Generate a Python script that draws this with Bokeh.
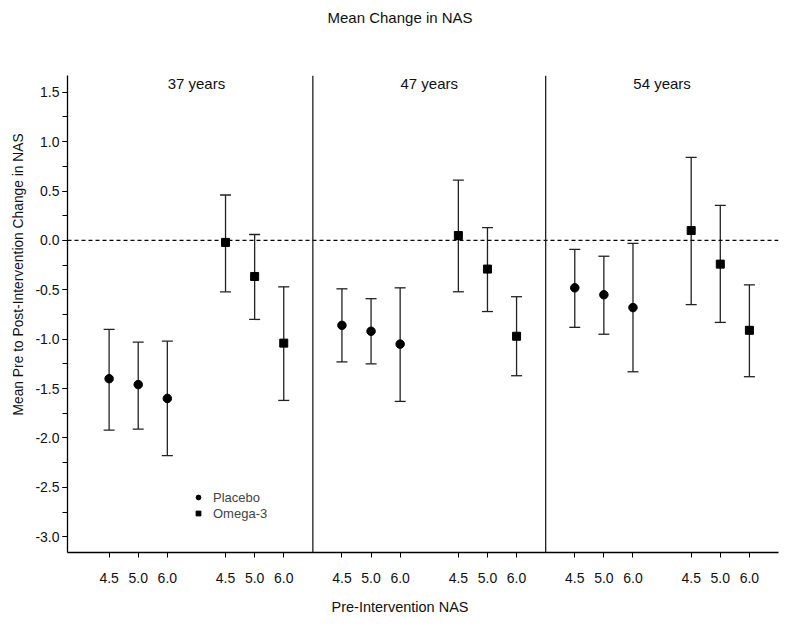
import math
from bokeh.plotting import figure
from bokeh.models import (ColumnDataSource, Whisker, TeeHead, Span, Label, Legend,
                          LegendItem, FixedTicker, Range1d, Title)
from bokeh.embed import file_html
from bokeh.resources import INLINE

# ---------------- data ----------------
groups = ["37 years", "47 years", "54 years"]
nas_levels = ["4.5", "5.0", "6.0"]

placebo_mean = [[-1.40, -1.46, -1.60], [-0.86, -0.92, -1.05], [-0.48, -0.55, -0.68]]
placebo_lower = [[-1.92, -1.91, -2.18], [-1.23, -1.25, -1.63], [-0.88, -0.95, -1.33]]
placebo_upper = [[-0.90, -1.03, -1.02], [-0.49, -0.59, -0.48], [-0.09, -0.16, -0.03]]

omega_mean = [[-0.02, -0.365, -1.04], [0.05, -0.29, -0.97], [0.10, -0.24, -0.91]]
omega_lower = [[-0.52, -0.80, -1.62], [-0.52, -0.72, -1.37], [-0.65, -0.83, -1.38]]
omega_upper = [[0.46, 0.06, -0.47], [0.61, 0.13, -0.57], [0.84, 0.355, -0.45]]

y_ticks = [-3.0, -2.5, -2.0, -1.5, -1.0, -0.5, 0.0, 0.5, 1.0, 1.5]
y_minor = [-3.25 + 0.25 * i for i in range(21)]

FONT = "Liberation Sans"

# ---------------- layout positions ----------------
PANEL_W = 8.0
placebo_slots = [1.5, 2.5, 3.5]
omega_slots = [5.5, 6.5, 7.5]

def build(means, lows, highs, slots):
    xs, ys, lo, hi = [], [], [], []
    for g in range(len(groups)):
        for k in range(len(nas_levels)):
            xs.append(g * PANEL_W + slots[k])
            ys.append(means[g][k])
            lo.append(lows[g][k])
            hi.append(highs[g][k])
    return ColumnDataSource(dict(x=xs, y=ys, lower=lo, upper=hi))

src_p = build(placebo_mean, placebo_lower, placebo_upper, placebo_slots)
src_o = build(omega_mean, omega_lower, omega_upper, omega_slots)

p = figure(width=792, height=627, output_backend="svg", toolbar_location=None,
           x_range=Range1d(0.07, 24.5), y_range=Range1d(-3.16, 1.67),
           min_border_left=67, min_border_right=14, min_border_top=75, min_border_bottom=75)
p.outline_line_color = None
p.xgrid.grid_line_color = None
p.ygrid.grid_line_color = None
p.background_fill_color = "white"
p.border_fill_color = "white"

has_standoff = "standoff" in Title.properties()

# main title (outermost slot)
p.title.text = "Mean Change in NAS"
p.title.align = "left"
p.title.offset = 260
p.title.vertical_align = "top"
p.title.text_font = FONT
p.title.text_font_size = "15px"
p.title.text_font_style = "normal"
p.title.text_color = "#111111"
if has_standoff:
    p.title.standoff = 10

# spacer between frame and main title
spacer = Title(text=" ", text_font_size="1px")
if has_standoff:
    spacer.standoff = 40
p.add_layout(spacer, "above")

# axes
x_tick_pos = []
x_over = {}
for g in range(len(groups)):
    for k, s in enumerate(placebo_slots + omega_slots):
        pos = g * PANEL_W + s
        x_tick_pos.append(pos)
        x_over[pos] = nas_levels[k % 3]
p.xaxis.ticker = FixedTicker(ticks=x_tick_pos)
p.xaxis.major_label_overrides = x_over
p.xaxis.major_tick_out = 5
p.xaxis.major_tick_in = 0
p.xaxis.major_label_standoff = 15
p.yaxis.ticker = FixedTicker(ticks=y_ticks, minor_ticks=y_minor)
p.yaxis.major_label_overrides = {t: f"{t:.1f}" for t in y_ticks}
p.yaxis.major_tick_out = 5
p.yaxis.major_tick_in = 0
p.yaxis.minor_tick_out = 5
p.yaxis.minor_tick_in = 0
p.yaxis.major_label_standoff = 3
for ax in (p.xaxis, p.yaxis):
    ax.axis_line_color = "black"
    ax.axis_line_width = 1.3
    ax.major_tick_line_color = "black"
    ax.major_label_text_font = FONT
    ax.major_label_text_font_size = "14px"
    ax.major_label_text_color = "#111111"
p.xaxis.minor_tick_line_color = None
p.yaxis.minor_tick_line_color = "black"

# axis titles (placed as titles so they can be offset like the original)
xlab = Title(text="Pre-Intervention NAS", align="left", offset=264,
             vertical_align="bottom",
             text_font=FONT, text_font_size="14.5px", text_font_style="normal",
             text_color="#111111")
if has_standoff:
    xlab.standoff = 22
p.add_layout(xlab, "below")
ylab = Title(text="Mean Pre to Post-Intervention Change in NAS", align="left", offset=137,
             text_font=FONT, text_font_size="13.8px", text_font_style="normal",
             text_color="#111111")
if has_standoff:
    ylab.standoff = 14
p.add_layout(ylab, "left")

# reference line and panel dividers
p.add_layout(Span(location=0, dimension="width", line_color="black",
                  line_dash="4 3", line_width=1.2))
for g in range(1, len(groups)):
    p.add_layout(Span(location=g * PANEL_W + 0.5, dimension="height",
                      line_color="#222222", line_width=1.3))

# error bars
for src in (src_p, src_o):
    w = Whisker(source=src, base="x", lower="lower", upper="upper",
                line_color="#222222", line_width=1.3,
                upper_head=TeeHead(size=11, line_color="#222222", line_width=1.3),
                lower_head=TeeHead(size=11, line_color="#222222", line_width=1.3))
    p.add_layout(w)

r_p = p.scatter("x", "y", source=src_p, marker="circle", size=8.5, color="black")
r_o = p.scatter("x", "y", source=src_o, marker="square", size=8, color="black")

legend = Legend(items=[LegendItem(label="Placebo", renderers=[r_p]),
                       LegendItem(label="Omega-3", renderers=[r_o])],
                location=(125, 31), border_line_color=None, background_fill_alpha=0,
                padding=0, margin=0, spacing=0, glyph_width=12, glyph_height=16,
                label_standoff=9, label_text_font=FONT, label_text_font_size="13px")
p.add_layout(legend)

# panel labels
for g, name in enumerate(groups):
    cx = (max(0.07, g * PANEL_W + 0.5) + min(24.5, (g + 1) * PANEL_W + 0.5)) / 2
    p.add_layout(Label(x=cx, y=1.59, text=name, text_align="center",
                       text_baseline="middle", text_font=FONT,
                       text_font_size="15px", text_color="#111111"))

open("out.html", "w").write(file_html(p, INLINE))
